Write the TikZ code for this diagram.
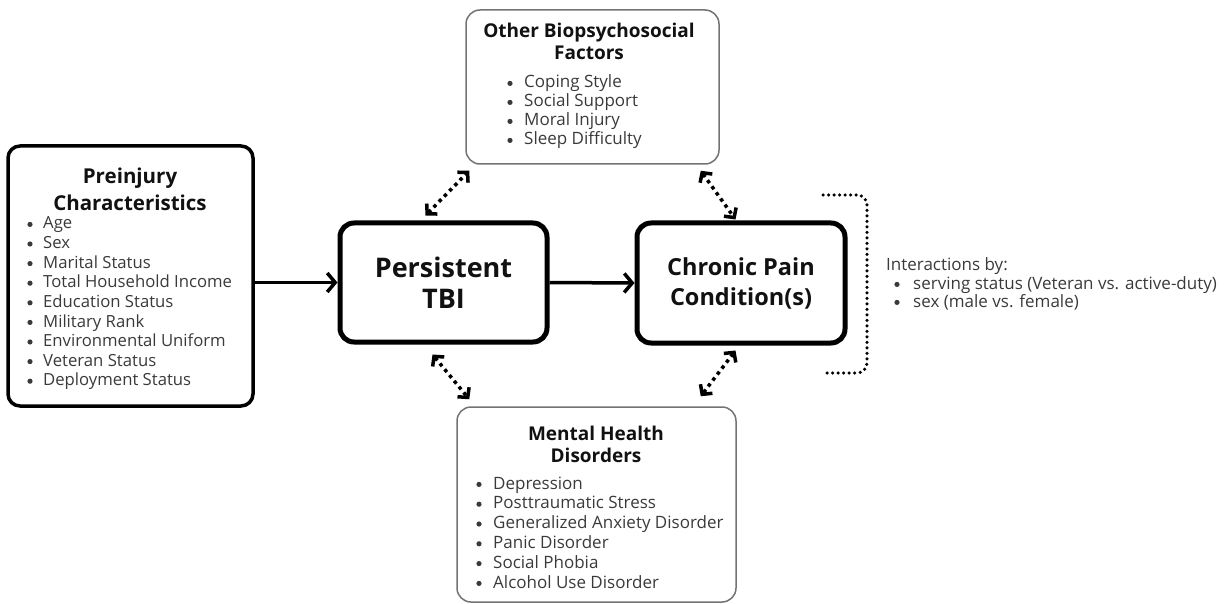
\documentclass[tikz,border=0pt]{standalone}
\usepackage{fontspec}
\setmainfont{Open Sans}
\usetikzlibrary{arrows.meta,calc}
\definecolor{txt}{HTML}{3A3A3A}
\definecolor{head}{HTML}{111111}
\begin{document}
\begin{tikzpicture}[x=1pt,y=-1pt,
  thickbox/.style={draw=black, line width=3.5pt, rounded corners=12pt, inner sep=0pt},
  mainbox/.style={draw=black, line width=5pt, rounded corners=14pt, inner sep=0pt, align=center, text=head},
  thinbox/.style={draw=black!55, line width=1.5pt, rounded corners=14pt, inner sep=0pt},
  headtext/.style={font=\fontsize{19}{22}\selectfont\bfseries, align=center, text=head, inner sep=0pt},
  itemtext/.style={anchor=base west, inner sep=0pt, font=\fontsize{17}{19}\selectfont, text=txt},
  bulletdot/.style={fill=txt},
  solidarrow/.style={line width=3.5pt, -{Straight Barb[length=8pt,width=19pt]}},
  dotarrow/.style={line width=3.5pt, dash pattern=on 3.5pt off 4pt,
    {Straight Barb[length=7pt,width=15pt]}-{Straight Barb[length=7pt,width=15pt]}},
  bracket/.style={line width=3.5pt, line cap=round, dash pattern=on 0pt off 5.5pt, rounded corners=10pt}
]
\useasboundingbox (0,0) rectangle (1226,604);

% boxes
\node[thickbox, minimum width=245, minimum height=260] (pre) at (130.5,276) {};
\node[thinbox, minimum width=253, minimum height=154] (other) at (592.5,87) {};
\node[thinbox, minimum width=279, minimum height=195] (mental) at (596.5,504.5) {};
\node[mainbox, minimum width=207, minimum height=119, font=\fontsize{27}{31}\selectfont\bfseries] (tbi) at (443.5,282.5) {Persistent\\TBI};
\node[mainbox, minimum width=208, minimum height=120, font=\fontsize{23.5}{30}\selectfont\bfseries] (chronic) at (741,283) {Chronic Pain\\Condition(s)};

% headings
\node[headtext, font=\fontsize{20.5}{27}\selectfont\bfseries] (preh) at (130,189) {Preinjury\\Characteristics};
\node[headtext] (otherh) at (589,41) {Other Biopsychosocial\\Factors};
\node[headtext] (mentalh) at (596,444) {Mental Health\\Disorders};

% lists
\foreach \t [count=\i] in {Age,Sex,Marital Status,Total Household Income,Education Status,Military Rank,Environmental Uniform,Veteran Status,Deployment Status}{
  \node[itemtext, font=\fontsize{16.7}{19}\selectfont] (pre\i) at (43,{229+19.6*(\i-1)}) {\t};
  \fill[bulletdot] ([xshift=-13pt,yshift=4.6pt]pre\i.base west) circle (2.6pt);
}
\foreach \t [count=\i] in {Coping Style,Social Support,Moral Injury,Sleep Difficulty}{
  \node[itemtext] (other\i) at (524,{88+19*(\i-1)}) {\t};
  \fill[bulletdot] ([xshift=-14pt,yshift=4.6pt]other\i.base west) circle (2.6pt);
}
\foreach \t [count=\i] in {Depression,Posttraumatic Stress,Generalized Anxiety Disorder,Panic Disorder,Social Phobia,Alcohol Use Disorder}{
  \node[itemtext] (mental\i) at (493,{489+19.8*(\i-1)}) {\t};
  \fill[bulletdot] ([xshift=-14pt,yshift=4.6pt]mental\i.base west) circle (2.6pt);
}

% interactions
\node[itemtext] (inter) at (886,270) {Interactions by:};
\node[itemtext] (inter1) at (913,289) {serving status (Veteran vs. active-duty)};
\node[itemtext] (inter2) at (913,307) {sex (male vs. female)};
\fill[bulletdot] ([xshift=-16pt,yshift=4.6pt]inter1.base west) circle (2.6pt);
\fill[bulletdot] ([xshift=-16pt,yshift=4.6pt]inter2.base west) circle (2.6pt);

% solid arrows
\draw[solidarrow] (pre.east |- tbi.west) -- (tbi.west);
\draw[solidarrow] (tbi.east) -- (chronic.west);

% dotted double arrows
\draw[dotarrow] ([xshift=88pt,yshift=5pt]tbi.north west) -- ([xshift=4pt,yshift=-6pt]other.south west);
\draw[dotarrow] ([xshift=-19pt,yshift=-6pt]other.south east) -- ([xshift=101pt,yshift=1pt]chronic.north west);
\draw[dotarrow] ([xshift=95pt,yshift=-10pt]tbi.south west) -- ([xshift=13pt,yshift=7pt]mental.north west);
\draw[dotarrow] ([xshift=101pt,yshift=-5pt]chronic.south west) -- ([xshift=-36pt,yshift=10pt]mental.north east);

% bracket
\coordinate (b1) at (823,195);
\coordinate (b2) at (867,195);
\coordinate (b3) at (867,373);
\coordinate (b4) at (823,373);
\draw[bracket] (b1) -- (b2) -- (b3) -- (b4);
\end{tikzpicture}
\end{document}
